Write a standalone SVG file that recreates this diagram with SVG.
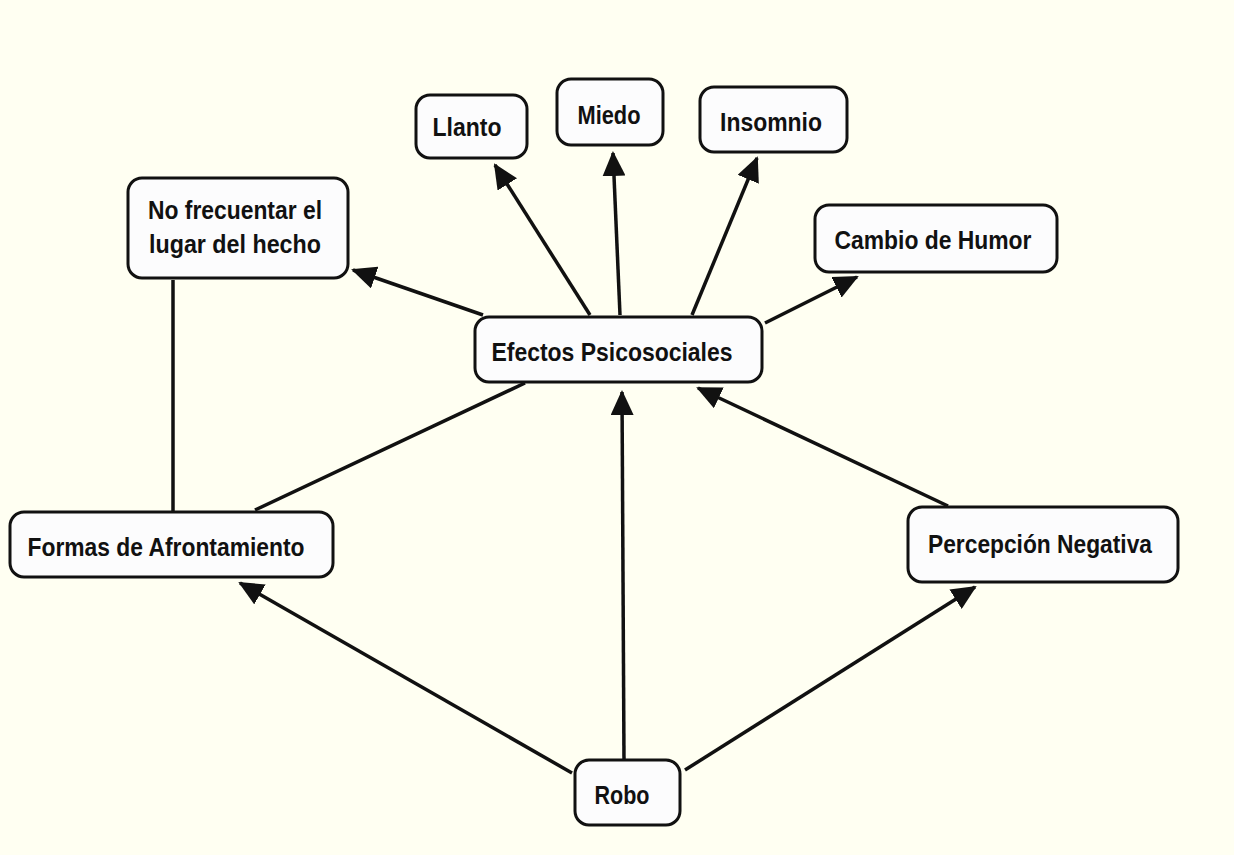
<svg xmlns="http://www.w3.org/2000/svg" width="1234" height="855" viewBox="0 0 1234 855">
<style>
.box{fill:#fcfcfd;stroke:#111;stroke-width:3}
.t{font-family:"Liberation Sans",Arial,sans-serif;font-weight:bold;font-size:25px;fill:#111;text-anchor:middle}
.c{stroke:#111;stroke-width:3.5;fill:none}
.a{marker-end:url(#ah)}
</style>
<defs>
<marker id="ah" markerUnits="userSpaceOnUse" markerWidth="25" markerHeight="23" refX="23" refY="11.5" orient="auto">
<path d="M0,0 L25,11.5 L0,23 z" fill="#111"/>
</marker>
</defs>
<rect width="1234" height="855" fill="#fffff2"/>
<g id="connectors">
<line class="c a" x1="590" y1="315" x2="495" y2="165"/>
<line class="c a" x1="620" y1="315" x2="613" y2="153"/>
<line class="c a" x1="692" y1="315" x2="757" y2="158"/>
<line class="c a" x1="483" y1="315" x2="353" y2="270"/>
<line class="c a" x1="765" y1="323" x2="857" y2="277"/>
<line class="c" x1="173" y1="280" x2="173" y2="512"/>
<line class="c" x1="255" y1="510" x2="525" y2="383"/>
<line class="c a" x1="572" y1="773" x2="240" y2="583"/>
<line class="c a" x1="624" y1="760" x2="622" y2="392"/>
<line class="c a" x1="685" y1="770" x2="975" y2="587"/>
<line class="c a" x1="948" y1="506" x2="698" y2="388"/>
</g>
<g id="llanto"><rect class="box" x="416" y="95" width="111" height="63" rx="14"/><text class="t" x="467" y="136" textLength="69" lengthAdjust="spacingAndGlyphs">Llanto</text></g>
<g id="miedo"><rect class="box" x="557" y="79" width="106" height="66" rx="14"/><text class="t" x="609" y="124" textLength="63" lengthAdjust="spacingAndGlyphs">Miedo</text></g>
<g id="insomnio"><rect class="box" x="700" y="87" width="147" height="65" rx="14"/><text class="t" x="771" y="131" textLength="102" lengthAdjust="spacingAndGlyphs">Insomnio</text></g>
<g id="no-frecuentar"><rect class="box" x="128" y="178" width="220" height="100" rx="14"/><text class="t" x="235" y="219" textLength="174" lengthAdjust="spacingAndGlyphs">No frecuentar el</text><text class="t" x="235" y="253" textLength="172" lengthAdjust="spacingAndGlyphs">lugar del hecho</text></g>
<g id="cambio"><rect class="box" x="815" y="205" width="242" height="67" rx="14"/><text class="t" x="933" y="249" textLength="197" lengthAdjust="spacingAndGlyphs">Cambio de Humor</text></g>
<g id="efectos"><rect class="box" x="475" y="317" width="287" height="65" rx="14"/><text class="t" x="612" y="361" textLength="241" lengthAdjust="spacingAndGlyphs">Efectos Psicosociales</text></g>
<g id="formas"><rect class="box" x="10" y="512" width="323" height="65" rx="14"/><text class="t" x="166" y="556" textLength="277" lengthAdjust="spacingAndGlyphs">Formas de Afrontamiento</text></g>
<g id="percepcion"><rect class="box" x="908" y="507" width="270" height="75" rx="14"/><text class="t" x="1040" y="553" textLength="224" lengthAdjust="spacingAndGlyphs">Percepción Negativa</text></g>
<g id="robo"><rect class="box" x="575" y="760" width="105" height="65" rx="14"/><text class="t" x="622" y="804" textLength="55" lengthAdjust="spacingAndGlyphs">Robo</text></g>
</svg>
